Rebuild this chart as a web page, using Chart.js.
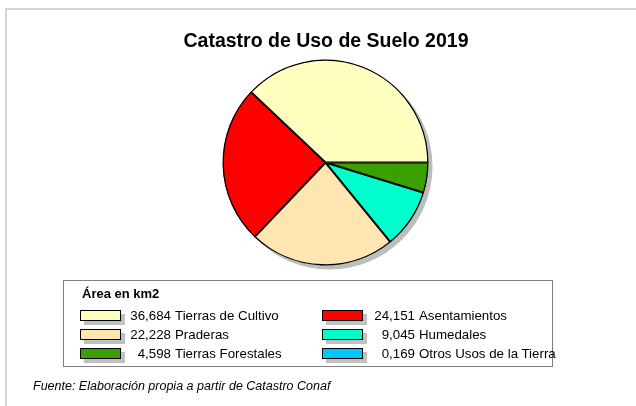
<!DOCTYPE html>
<html>
<head>
<meta charset="utf-8">
<script src="https://cdn.jsdelivr.net/npm/chart.js@4"></script>
<style>
  body { margin: 0; background: #fff; font-family: "Liberation Sans", Arial, sans-serif; }
  #page { position: relative; width: 636px; height: 406px; overflow: hidden; }
  #frame { position: absolute; left: 5px; top: 8px; width: 640px; height: 420px;
    border-top: 2px solid #d4d4d4; border-left: 2px solid #d4d4d4; }
  #chartBox { position: absolute; left: 0; top: 0; width: 636px; height: 406px; }
  #title { position: absolute; left: 0; top: 30px; width: 652px; text-align: center;
    font-weight: bold; font-size: 19.5px; line-height: 20px; color: #000; }
  #legend { position: absolute; left: 63px; top: 280px; width: 488px; height: 85px;
    border: 1px solid #808080; background: #fff; }
  #legendTitle { position: absolute; left: 18px; top: 6px; font-weight: bold; font-size: 13px; line-height: 14px; }
  .item { position: absolute; height: 14px; font-size: 13.3px; line-height: 14px; white-space: pre; }
  .swatch { position: absolute; top: 1px; width: 39px; height: 9px; border: 1px solid #000; }
  .shadow { position: absolute; top: 5px; left: 4px; width: 41px; height: 11px; background: #c0c0c0; }
  .num { position: absolute; text-align: right; }
  .lbl { position: absolute; }
  #footer { position: absolute; left: 33px; top: 379px; font-style: italic; font-size: 12.5px; line-height: 14px; }
</style>
</head>
<body>
<div id="page">
  <div id="frame"></div>
  <div id="chartBox"><canvas id="chart" width="636" height="406"></canvas></div>
  <div id="title">Catastro de Uso de Suelo 2019</div>
  <div id="legend"><div id="legendTitle">Área en km2</div></div>
  <div id="footer">Fuente: Elaboración propia a partir de Catastro Conaf</div>
</div>
<script>
const categories = ["Tierras de Cultivo", "Asentamientos", "Praderas", "Humedales", "Tierras Forestales", "Otros Usos de la Tierra"]
const areas = [36684, 24151, 22228, 9045, 4598, 0.169]
const areaLabels = ["36,684", "24,151", "22,228", "9,045", "4,598", "0,169"]
const colors = ["#FFFFC0", "#FF0000", "#FFE6B0", "#00FFCC", "#3AA000", "#00C8FF"]

// the original runs counter-clockwise from 3 o'clock, Chart.js goes clockwise, so reverse
const pieLabels = categories.slice().reverse()
const pieValues = areas.slice().reverse()
const pieColors = colors.slice().reverse()

//Legend (two columns, three rows)
const legend = document.getElementById("legend")
categories.forEach((name, i) => {
  const col = i % 2, row = Math.floor(i / 2)
  const item = document.createElement("div")
  item.className = "item"
  item.style.left = (col == 0 ? 16 : 258) + "px"
  item.style.top = (28 + row * 19) + "px"
  item.innerHTML = `<div class="shadow"></div><div class="swatch" style="left:0;background:${colors[i]}"></div>` +
    `<span class="num" style="left:49px;width:${col == 0 ? 42 : 44}px">${areaLabels[i]}</span>` +
    `<span class="lbl" style="left:${col == 0 ? 95 : 97}px">${name}</span>`
  legend.append(item)
})

const pieShadow = {
  id: "pieShadow",
  beforeDatasetsDraw(chart) {
    const arc = chart.getDatasetMeta(0).data[0]
    if (!arc) return
    const ctx = chart.ctx
    ctx.save()
    ctx.fillStyle = "#bdbdbd"
    ctx.beginPath()
    ctx.arc(arc.x + 4, arc.y + 4, arc.outerRadius, 0, Math.PI * 2)
    ctx.fill()
    ctx.restore()
  }
}

new Chart(document.getElementById("chart"), {
  type: "pie",
  data: {
    labels: pieLabels,
    datasets: [{
      data: pieValues,
      backgroundColor: pieColors,
      borderColor: "#000",
      borderWidth: 1,
      borderAlign: "inner"
    }]
  },
  options: {
    responsive: false,
    animation: false,
    rotation: 90,
    radius: 103,
    layout: { padding: { left: 15, right: 0, top: 0, bottom: 81 } },
    plugins: { legend: { display: false }, tooltip: { enabled: false } }
  },
  plugins: [pieShadow]
})
</script>
</body>
</html>
